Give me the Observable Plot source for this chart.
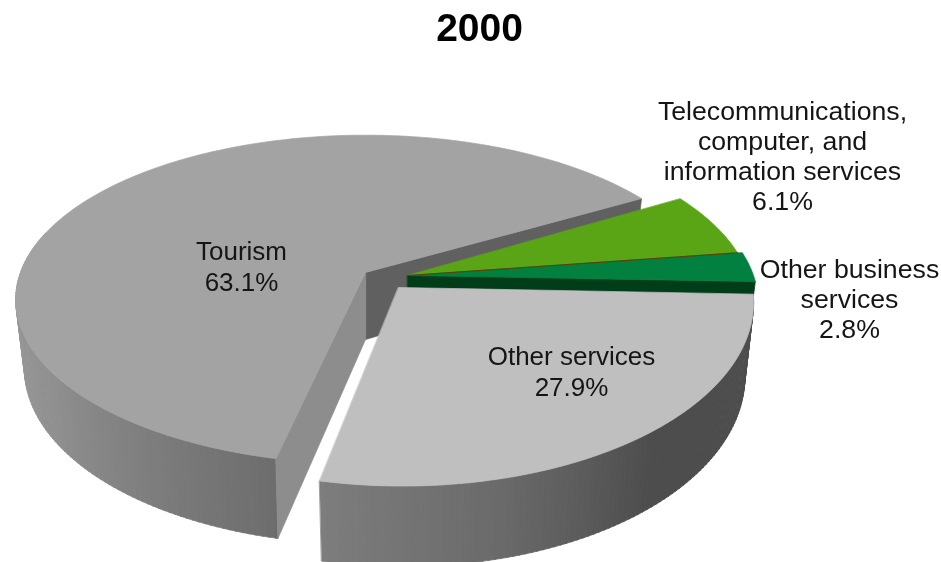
<!DOCTYPE html>
<html>
<head>
<meta charset="utf-8">
<style>html,body{margin:0;padding:0;background:#fff}svg{display:block;filter:blur(0.4px)}</style>
<script src="https://cdn.jsdelivr.net/npm/d3@7"></script>
<script src="https://cdn.jsdelivr.net/npm/@observablehq/plot@0.6"></script>
</head>
<body>
<script>
// ---- data ----
const title = "2000";
const categories = ["Tourism", "Other services", "Other business services", "Telecommunications, computer, and information services"];
const shares = [63.1, 27.9, 2.8, 6.1];
const labelLines = [
  "Tourism\n63.1%",
  "Other services\n27.9%",
  "Other business\nservices\n2.8%",
  "Telecommunications,\ncomputer, and\ninformation services\n6.1%"
];

// ---- perspective model of the pie ----
const W = 941, H = 562;
const total = d3.sum(shares);
// Tourism runs from START going counter-clockwise on screen
const START = 30;
const rad = d => d * Math.PI / 180;
const sweep = shares.map(v => v / total * 360);
const tourismEnd = START + sweep[0];             // near 257
const otherEnd = tourismEnd;                     // shared cut
const otherStart = otherEnd + sweep[1];
const businessEnd = otherStart;
const businessStart = businessEnd + sweep[2];
const telecomEnd = businessStart;
const telecomStart = telecomEnd + sweep[3];

const geomT = {x: 365, y: 272, rx: 345, ry: 160, p: 0.165, depth: 67, shrink: 0.975};
const geomO = {x: 402, y: 287, rx: 350, ry: 182.7, p: 0.08, depth: 74, shrink: 0.975};
const geomB = {x: 407, y: 275, rx: 346, ry: 166, p: 0.165, depth: 67, shrink: 0.975};
const geomC = {x: 407, y: 275, rx: 341, ry: 166, p: 0.165, depth: 67, shrink: 0.975};
const tipO = {x: 398, y: 287};

const rimTop = (g, t) => {
  const co = Math.cos(rad(t)), s = Math.sin(rad(t)), d = 1 + g.p * s;
  return {x: g.x + g.rx * co / d, y: g.y - g.ry * s / d};
};
const rimBottom = (g, t) => {
  const co = Math.cos(rad(t)), s = Math.sin(rad(t)), d = 1 + g.p * s;
  return {x: g.x + g.shrink * g.rx * co / d, y: g.y - g.ry * s / d + g.depth / d};
};
const arc = (g, a, b) => {
  const n = Math.max(2, Math.ceil(Math.abs(b - a)));
  return d3.range(n + 1).map(i => rimTop(g, a + (b - a) * i / n));
};
const under = g => ({x: g.x, y: g.y + g.depth});

const polys = [];
let pid = 0;
const add = (pts, c) => { const id = pid++; pts.forEach(p => polys.push({x: p.x, y: p.y, id, c})); };

// Tourism: inner back wall, outer wall, cut wall, top
add([geomT, rimTop(geomT, START), rimBottom(geomT, START), under(geomT)], "#606060");
const tourWall = d3.scaleLinear().domain([170, 215, tourismEnd]).range(["#a0a0a0", "#8f8f8f", "#6d6d6d"]);
for (let t = 165; t < tourismEnd; t += 1) {
  const b = Math.min(t + 1.2, tourismEnd);
  add([rimTop(geomT, t), rimTop(geomT, b), rimBottom(geomT, b), rimBottom(geomT, t)], tourWall(t));
}
add([geomT, rimTop(geomT, tourismEnd), rimBottom(geomT, tourismEnd), under(geomT)], "#8d8d8d");
add([geomT, ...arc(geomT, START, tourismEnd)], "#a3a3a3");

// Green slices
add([geomB, rimTop(geomB, businessEnd - 360), rimBottom(geomB, businessEnd - 360), under(geomB)], "#003d18");
add([geomC, ...arc(geomC, telecomEnd - 360, telecomStart - 360)], "#5aa516");
add([geomB, ...arc(geomB, businessEnd - 360, businessStart - 360)], "#02803f");

// Other services: outer wall and top
const otherWall = d3.scaleLinear().domain([otherEnd, 285, 312]).range(["#7d7d7d", "#6a6a6a", "#4d4d4d"]).clamp(true);
for (let t = otherEnd; t < otherStart; t += 1) {
  const b = Math.min(t + 1.2, otherStart);
  add([rimTop(geomO, t), rimTop(geomO, b), rimBottom(geomO, b), rimBottom(geomO, t)], otherWall(t));
}
add([tipO, ...arc(geomO, otherStart, otherEnd)], "#bfbfbf");

const divider = [geomB, rimTop(geomC, telecomEnd - 360)];

const labelAt = [
  {x: 241, y: 265, big: false},
  {x: 571, y: 370, big: false},
  {x: 849, y: 298, big: true},
  {x: 782, y: 155, big: true}
];
const labels = labelLines.map((text, i) => ({text, ...labelAt[i]}));

const chart = Plot.plot({
  width: W, height: H,
  margin: 0,
  x: {domain: [0, W], range: [0, W], axis: null},
  y: {domain: [0, H], range: [0, H], axis: null},
  style: {background: "#fff", fontFamily: "'Liberation Sans', Arial, sans-serif"},
  marks: [
    Plot.line(polys, {x: "x", y: "y", z: "id", fill: "c", stroke: "c", strokeWidth: 0.7, curve: "linear-closed"}),
    Plot.line(divider, {x: "x", y: "y", stroke: "#5c4208", strokeWidth: 1.2}),
    Plot.text(labels.filter(d => !d.big), {x: "x", y: "y", text: "text", fontSize: 26, lineHeight: 1.19, fill: "#151515", textAnchor: "middle"}),
    Plot.text(labels.filter(d => d.big), {x: "x", y: "y", text: "text", fontSize: 26.7, lineHeight: 1.13, fill: "#151515", textAnchor: "middle"}),
    Plot.text([title], {x: () => 479, y: () => 28, text: d => d, fontSize: 39, fontWeight: "bold", fill: "#000", textAnchor: "middle"})
  ]
});
document.body.appendChild(chart);
</script>
</body>
</html>
